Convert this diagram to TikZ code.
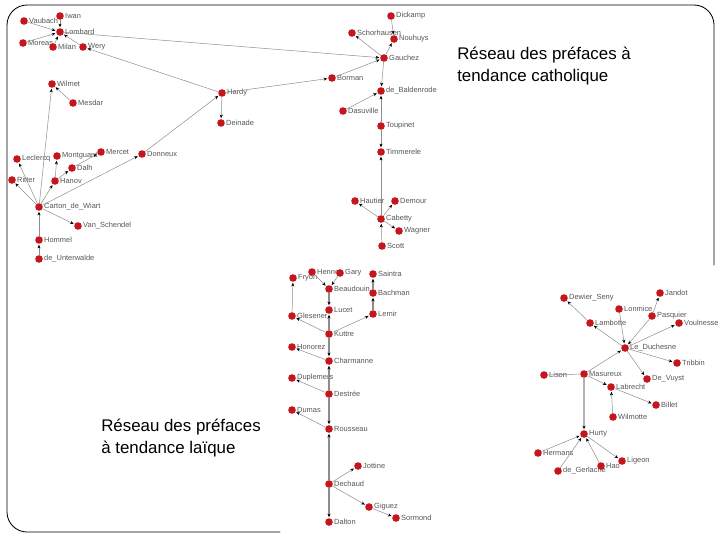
\documentclass[tikz,border=0pt]{standalone}
\usepackage{fontspec}
\setmainfont{Liberation Sans}
\usetikzlibrary{arrows.meta}
\definecolor{dot}{HTML}{C4161C}
\definecolor{edge}{HTML}{8C8C8C}
\definecolor{lab}{HTML}{555555}
\begin{document}
\begin{tikzpicture}[
  x=0.025cm, y=-0.025cm,
  line cap=round, line join=round,
  every node/.style={inner sep=0pt},
  person/.style={circle, fill=dot, minimum size=0.19cm},
  every label/.style={font=\fontsize{5.3}{6}\selectfont, text=lab, inner sep=0.6pt},
  link/.style={draw=edge, line width=0.35pt, shorten >=0.5pt,
    -{Stealth[length=2.6pt, width=2.2pt, color=black]}},
  plain/.style={draw=edge, line width=0.35pt},
  heavy/.style={link, line width=0.9pt},
  frame/.style={draw=black, line width=0.6pt, rounded corners=0.5cm},
  title/.style={font=\fontsize{12}{15.6}\selectfont, align=left, anchor=base west},
]
\useasboundingbox (0,0) rectangle (720,540);
\draw[frame] (280,532) -- (7,532) -- (7,5) -- (714,5) -- (714,265);

\node[title] (cath) at (457,81) {Réseau des préfaces à\\tendance catholique};
\node[title] (laic) at (101,453) {Réseau des préfaces\\à tendance laïque};

% catholic network, left part
\node[person, label=right:Iwan] (iwan) at (60,16) {};
\node[person, label=right:Vaubach] (vaubach) at (24,21) {};
\node[person, label=right:Lombard] (lombard) at (60,32) {};
\node[person, label=right:Moreas] (moreas) at (23,43) {};
\node[person, label=right:Milan] (milan) at (53,47) {};
\node[person, label=right:Wery] (wery) at (83,47) {};
\node[person, label=right:Wilmet] (wilmet) at (52,84) {};
\node[person, label=right:Mesdar] (mesdar) at (73,103) {};
\node[person, label=right:Hardy] (hardy) at (222,93) {};
\node[person, label=right:Deinade] (deinade) at (221,123) {};
\node[person, label=right:Leclercq] (leclercq) at (17,159) {};
\node[person, label=right:Montguant] (montguant) at (57,156) {};
\node[person, label=right:Mercet] (mercet) at (101,152) {};
\node[person, label=right:Donneux] (donneux) at (142,154) {};
\node[person, label=right:Dalh] (dalh) at (72,168) {};
\node[person, label=right:Ritter] (ritter) at (12,180) {};
\node[person, label=right:Hanov] (hanov) at (55,181) {};
\node[person, label=right:Carton\_de\_Wiart] (carton) at (39,207) {};
\node[person, label=right:Van\_Schendel] (vanschendel) at (78,226) {};
\node[person, label=right:Hommel] (hommel) at (39,240) {};
\node[person, label=right:de\_Unterwalde] (unterwalde) at (39,259) {};

% catholic network, right part
\node[person, label=right:Dickamp] (dickamp) at (391,16) {};
\node[person, label=right:Schorhausen] (schorhausen) at (352,33) {};
\node[person, label=right:Nouhuys] (nouhuys) at (394,39) {};
\node[person, label=right:Gauchez] (gauchez) at (384,58) {};
\node[person, label=right:Borman] (borman) at (332,78) {};
\node[person, label=right:de\_Baldenrode] (baldenrode) at (381,91) {};
\node[person, label=right:Dasuville] (dasuville) at (343,111) {};
\node[person, label=right:Toupinet] (toupinet) at (381,126) {};
\node[person, label=right:Timmerele] (timmerele) at (381,152) {};
\node[person, label=right:Hautier] (hautier) at (355,201) {};
\node[person, label=right:Demour] (demour) at (395,201) {};
\node[person, label=right:Cabetty] (cabetty) at (381,219) {};
\node[person, label=right:Wagner] (wagner) at (399,231) {};
\node[person, label=right:Scott] (scott) at (382,246) {};

\draw[link] (iwan) -- (lombard);
\draw[link] (vaubach) -- (lombard);
\draw[link] (moreas) -- (lombard);
\draw[link] (milan) -- (lombard);
\draw[link] (wery) -- (lombard);
\draw[link] (lombard) -- (gauchez);
\draw[link] (hardy) -- (wery);
\draw[link] (hardy) -- (deinade);
\draw[link] (hardy) -- (borman);
\draw[link] (borman) -- (gauchez);
\draw[link] (donneux) -- (hardy);
\draw[link] (carton) -- (donneux);
\draw[link] (carton) -- (leclercq);
\draw[link] (carton) -- (ritter);
\draw[link] (carton) -- (hanov);
\draw[link] (hanov) -- (montguant);
\draw[link] (hanov) -- (dalh);
\draw[link] (dalh) -- (mercet);
\draw[link] (carton) -- (vanschendel);
\draw[link] (hommel) -- (carton);
\draw[link] (unterwalde) -- (hommel);
\draw[link] (carton) -- (wilmet);
\draw[link] (mesdar) -- (wilmet);
\draw[link] (dickamp) -- (nouhuys);
\draw[link] (gauchez) -- (nouhuys);
\draw[link] (gauchez) -- (schorhausen);
\draw[link] (gauchez) -- (baldenrode);
\draw[link] (toupinet) -- (baldenrode);
\draw[link] (dasuville) -- (baldenrode);
\draw[link] (toupinet) -- (timmerele);
\draw[link] (cabetty) -- (timmerele);
\draw[link] (cabetty) -- (hautier);
\draw[link] (cabetty) -- (demour);
\draw[link] (cabetty) -- (wagner);
\draw[link] (scott) -- (cabetty);

% laic network, middle
\node[person, label=right:Fryon] (fryon) at (293,278) {};
\node[person, label=right:Hennet] (hennet) at (312,272) {};
\node[person, label=right:Gary] (gary) at (340,273) {};
\node[person, label=right:Beaudouin] (beaudouin) at (329,289) {};
\node[person, label=right:Saintra] (saintra) at (373,274) {};
\node[person, label=right:Bachman] (bachman) at (373,293) {};
\node[person, label=right:Lucet] (lucet) at (329,310) {};
\node[person, label=right:Glesener] (glesener) at (292,316) {};
\node[person, label=right:Lemir] (lemir) at (373,314) {};
\node[person, label=right:Kuttre] (kuttre) at (329,334) {};
\node[person, label=right:Honorez] (honorez) at (292,347) {};
\node[person, label=right:Charmanne] (charmanne) at (329,361) {};
\node[person, label=right:Duplemers] (duplemers) at (292,378) {};
\node[person, label=right:Destrée] (destree) at (329,394) {};
\node[person, label=right:Dumas] (dumas) at (292,410) {};
\node[person, label=right:Rousseau] (rousseau) at (329,429) {};
\node[person, label=right:Jottine] (jottine) at (358,466) {};
\node[person, label=right:Dechaud] (dechaud) at (329,484) {};
\node[person, label=right:Giguez] (giguez) at (369,507) {};
\node[person, label=right:Sormond] (sormond) at (396,518) {};
\node[person, label=right:Dalton] (dalton) at (329,522) {};

\draw[link] (hennet) -- (beaudouin);
\draw[link] (gary) -- (beaudouin);
\draw[heavy] (beaudouin) -- (lucet);
\draw[link] (glesener) -- (fryon);
\draw[heavy] (kuttre) -- (lucet);
\draw[link] (kuttre) -- (glesener);
\draw[link] (kuttre) -- (lemir);
\draw[heavy] (lemir) -- (bachman);
\draw[heavy] (bachman) -- (saintra);
\draw[heavy] (kuttre) -- (charmanne);
\draw[link] (charmanne) -- (honorez);
\draw[heavy] (destree) -- (charmanne);
\draw[link] (destree) -- (duplemers);
\draw[heavy] (destree) -- (rousseau);
\draw[link] (rousseau) -- (dumas);
\draw[heavy] (dechaud) -- (rousseau);
\draw[link] (dechaud) -- (jottine);
\draw[link] (dechaud) -- (giguez);
\draw[link] (giguez) -- (sormond);
\draw[heavy] (dechaud) -- (dalton);

% laic network, right
\node[person, label=right:Dewier\_Seny] (dewier) at (564,298) {};
\node[person, label=right:Lonmice] (lonmice) at (619,309) {};
\node[person, label=right:Jandot] (jandot) at (660,293) {};
\node[person, label=right:Pasquier] (pasquier) at (652,316) {};
\node[person, label=right:Voulnesse] (voulnesse) at (679,323) {};
\node[person, label=right:Lambotte] (lambotte) at (590,323) {};
\node[person, label=right:Le\_Duchesne] (duchesne) at (625,348) {};
\node[person, label=right:Tribbin] (tribbin) at (677,363) {};
\node[person, label=right:Lison] (lison) at (544,375) {};
\node[person, label=right:Masureux] (masureux) at (584,374) {};
\node[person, label=right:Labrecht] (labrecht) at (611,387) {};
\node[person, label=right:De\_Vuyst] (devuyst) at (647,379) {};
\node[person, label=right:Billet] (billet) at (656,405) {};
\node[person, label=right:Wilmotte] (wilmotte) at (613,417) {};
\node[person, label=right:Hurty] (hurty) at (584,434) {};
\node[person, label=right:Hermans] (hermans) at (538,453) {};
\node[person, label=right:de\_Gerlache] (gerlache) at (558,471) {};
\node[person, label=right:Hao] (hao) at (601,466) {};
\node[person, label=right:Ligeon] (ligeon) at (622,461) {};

\draw[link] (duchesne) -- (lambotte);
\draw[link] (lambotte) -- (dewier);
\draw[link] (lonmice) -- (duchesne);
\draw[link] (pasquier) -- (duchesne);
\draw[link] (pasquier) -- (jandot);
\draw[link] (duchesne) -- (voulnesse);
\draw[link] (duchesne) -- (tribbin);
\draw[link] (duchesne) -- (devuyst);
\draw[link] (masureux) -- (duchesne);
\draw[plain] (lison) -- (masureux);
\draw[link] (masureux) -- (labrecht);
\draw[heavy, draw=black!30, line width=1.4pt] (masureux) -- (hurty);
\draw[link] (labrecht) -- (billet);
\draw[link] (wilmotte) -- (labrecht);
\draw[link] (hermans) -- (hurty);
\draw[link] (gerlache) -- (hurty);
\draw[link] (hao) -- (hurty);
\draw[link] (hurty) -- (ligeon);
\end{tikzpicture}
\end{document}
